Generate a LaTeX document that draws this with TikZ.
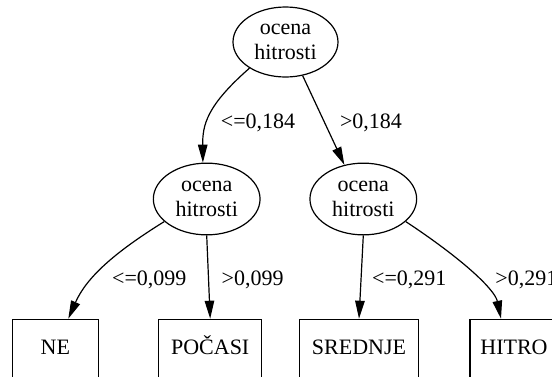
\documentclass[tikz,border=0pt]{standalone}
\usepackage{fontspec}
\setmainfont{Liberation Serif}
\usetikzlibrary{shapes.geometric,arrows.meta}
\begin{document}
\begin{tikzpicture}[x=1pt,y=-1pt,
  every node/.style={font=\fontsize{22}{25.5}\selectfont},
  split/.style={ellipse,draw,line width=1.2pt,inner sep=0pt,align=center,
    minimum width=106.7pt,minimum height=71.7pt},
  leaf/.style={rectangle,draw,line width=1.2pt,inner sep=0pt,
    minimum height=59.4pt,text height=15pt,text depth=5pt},
  lbl/.style={anchor=base,inner sep=0pt},
  link/.style={-{Triangle[length=18pt,width=9.5pt]},line width=1.2pt}
]
\clip (0,0) rectangle (552,376);

% decision nodes
\node[split,minimum width=105pt,minimum height=70pt] (root) at (285.5,42) {ocena\\hitrosti};
\node[split] (midL) at (206.7,199) {ocena\\hitrosti};
\node[split] (midR) at (363.3,199) {ocena\\hitrosti};

% leaves
\node[leaf,minimum width=86pt]    (ne)   at (55.3,349)  {NE};
\node[leaf,minimum width=103pt]   (poc)  at (210.2,349) {POČASI};
\node[leaf,minimum width=119.4pt] (sred) at (359,349)   {SREDNJE};
\node[leaf,minimum width=88pt]    (hit)  at (514,349)   {HITRO};

% branches
\draw[link] (root.216.7) .. controls (206.5,105.8) and (202.5,125) .. (midL.96);
\draw[link] (root.-63) -- (midR.119);
\draw[link] (midL.208.8) .. controls (113.3,253.2) and (86.3,277.9) .. ([xshift=13pt]ne.north);
\draw[link] (midL.south) -- (poc.north);
\draw[link] (midR.south) -- (sred.north);
\draw[link] (midR.-28.2) .. controls (464,260) and (495,290) .. ([xshift=-13pt]hit.north);

% split thresholds
\node[lbl] (t1) at (258,128)   {<=0,184};
\node[lbl] (t2) at (371,128)   {>0,184};
\node[lbl] (t3) at (149.3,285.3) {<=0,099};
\node[lbl] (t4) at (252.7,285.3) {>0,099};
\node[lbl] (t5) at (409.3,285.3) {<=0,291};
\node[lbl] (t6) at (526.3,285.3) {>0,291};
\end{tikzpicture}
\end{document}
